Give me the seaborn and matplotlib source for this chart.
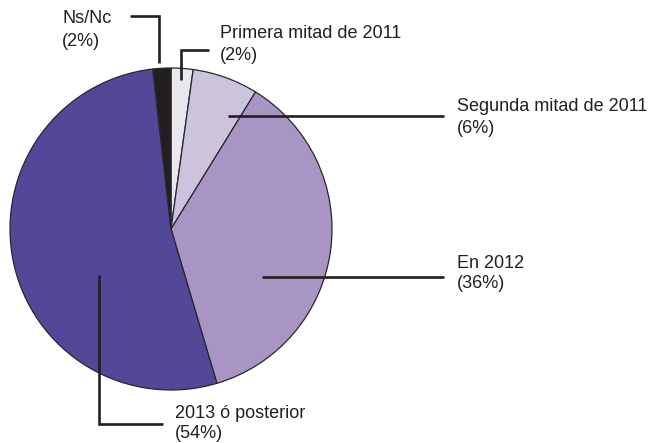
import matplotlib
matplotlib.use("Agg")
import matplotlib.pyplot as plt
import seaborn as sns

# Data (wedge sizes; labels as printed)
categories = ["Primera mitad de 2011", "Segunda mitad de 2011", "En 2012",
              "2013 ó posterior", "Ns/Nc"]
shares = [2.2, 6.6, 36.6, 52.8, 1.8]
pct_labels = ["(2%)", "(6%)", "(36%)", "(54%)", "(2%)"]
colors = ["#E9E7EE", "#CCC4DD", "#A995C4", "#544798", "#231F20"]

sns.set_theme(style="white")
plt.rcParams['font.family'] = ['Liberation Sans', 'DejaVu Sans']

W, H = 654, 443
fig = plt.figure(figsize=(W / 100, H / 100), dpi=100)
ax = fig.add_axes([0, 0, 1, 1])

def Y(y):
    return H - y

ax.pie(shares, colors=colors, startangle=90, counterclock=False,
       center=(171, Y(229)), radius=161,
       wedgeprops=dict(edgecolor="#2a2530", linewidth=0.9))
ax.set_xlim(0, W)
ax.set_ylim(0, H)
ax.set_aspect('equal')
ax.axis('off')

lc = "#231F20"
lw = 1.9
txt = dict(fontsize=13, color=lc, va='center', ha='left')

# Leader lines (layout positions, pixel coordinates)
leaders = [
    [(181, 80), (181, 50), (209, 50)],            # Primera
    [(228, 116), (444, 116)],                     # Segunda
    [(262, 277), (444, 277)],                     # 2012
    [(99, 275), (99, 424), (163, 424)],           # 2013
    [(159, 63), (159, 16), (130, 16)],            # Ns/Nc
]
text_pos = [(220, 33, 55), (457, 106, 128), (457, 263, 284),
            (175, 413, 434), (62, 18, 41)]

for pts, (tx, ty1, ty2), name, pct in zip(leaders, text_pos, categories, pct_labels):
    xs = [p[0] for p in pts]
    ys = [Y(p[1]) for p in pts]
    ax.plot(xs, ys, color=lc, lw=lw, solid_capstyle='butt', solid_joinstyle='miter')
    ax.text(tx, Y(ty1), name, **txt)
    ax.text(tx, Y(ty2), pct, **txt)

fig.savefig("out.png", dpi=100)
